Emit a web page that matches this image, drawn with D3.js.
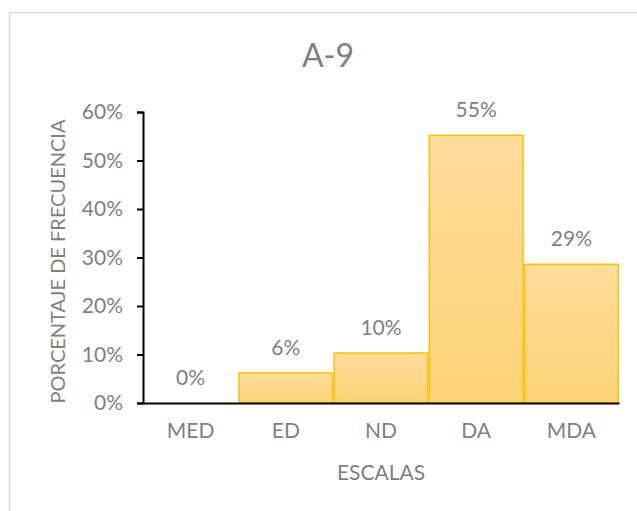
<!DOCTYPE html>
<html>
<head>
<meta charset="utf-8">
<script src="https://cdn.jsdelivr.net/npm/d3@7"></script>
<style>
  html, body { margin: 0; padding: 0; background: #fff; }
  svg { display: block; }
  text { font-family: Lato, "Open Sans", sans-serif; fill: #7f7f7f; }
</style>
</head>
<body>
<svg id="chart" width="637" height="511"></svg>
<script>
// Response scale categories and share of answers
const categories = ["MED", "ED", "ND", "DA", "MDA"];
const percentages = [0, 0.062, 0.103, 0.552, 0.286];
const yTicks = [0, 0.1, 0.2, 0.3, 0.4, 0.5, 0.6];
const chartTitle = "A-9";
const xTitle = "ESCALAS";
const yTitle = "PORCENTAJE DE FRECUENCIA";

const svg = d3.select("#chart");
const W = 637, H = 511;
const m = { left: 143, right: 18, top: 112, bottom: 108 };

// Chart frame (open to the right and bottom)
svg.append("rect")
  .attr("x", 9.5).attr("y", 12.5)
  .attr("width", 700).attr("height", 600)
  .attr("fill", "none")
  .attr("stroke", "#d9d9d9").attr("stroke-width", 1.5);

const x = d3.scaleBand().domain(categories)
  .range([m.left, W - m.right]).paddingInner(0).paddingOuter(0);
const y = d3.scaleLinear().domain([0, 0.6]).range([H - m.bottom, m.top]);

// Bar fill gradient
const defs = svg.append("defs");
const grad = defs.append("linearGradient")
  .attr("id", "barFill").attr("x1", 0).attr("y1", 0).attr("x2", 0).attr("y2", 1);
grad.append("stop").attr("offset", "0%").attr("stop-color", "#fedc9b");
grad.append("stop").attr("offset", "100%").attr("stop-color", "#fed377");

// Bars
svg.append("g").selectAll("rect")
  .data(categories.map((c, i) => ({ c, v: percentages[i] })).filter(d => d.v > 0))
  .join("rect")
  .attr("x", d => x(d.c) + 0.75)
  .attr("y", d => y(d.v))
  .attr("width", x.bandwidth() - 1.5)
  .attr("height", d => y(0) - y(d.v))
  .attr("fill", "url(#barFill)")
  .attr("stroke", "#ffc000")
  .attr("stroke-width", 1.5);

// Data labels
svg.append("g").selectAll("text")
  .data(categories.map((c, i) => ({ c, v: percentages[i] })))
  .join("text")
  .attr("x", d => x(d.c) + x.bandwidth() / 2)
  .attr("y", d => y(d.v) - 18)
  .attr("text-anchor", "middle")
  .style("font-size", "21px")
  .text(d => d3.format(".0%")(d.v));

// Y axis
const yAxis = svg.append("g")
  .attr("transform", `translate(${m.left},0)`)
  .call(d3.axisLeft(y).tickValues(yTicks).tickFormat(d3.format(".0%"))
    .tickSize(6).tickPadding(14));
yAxis.select(".domain").attr("stroke", "#000").attr("stroke-width", 2);
yAxis.selectAll(".tick line").attr("stroke", "#000").attr("stroke-width", 2);
yAxis.selectAll(".tick text")
  .style("font-size", "21px").style("font-family", "Lato, sans-serif")
  .attr("fill", "#7f7f7f");

// X axis
const xAxis = svg.append("g")
  .attr("transform", `translate(0,${y(0)})`)
  .call(d3.axisBottom(x).tickSize(0).tickPadding(20));
xAxis.select(".domain").attr("stroke", "#000").attr("stroke-width", 2);
xAxis.selectAll(".tick text")
  .style("font-size", "21px").style("font-family", "Lato, sans-serif")
  .attr("fill", "#7f7f7f");

// Titles
svg.append("text")
  .attr("x", (m.left + W - m.right) / 2 - 53).attr("y", 67)
  .attr("text-anchor", "middle")
  .style("font-size", "32px")
  .text(chartTitle);

svg.append("text")
  .attr("x", (m.left + W - m.right) / 2).attr("y", 480)
  .attr("text-anchor", "middle")
  .style("font-size", "21px")
  .text(xTitle);

svg.append("text")
  .attr("transform", `translate(65,${(y(0) + y(0.6)) / 2 + 4}) rotate(-90)`)
  .attr("text-anchor", "middle")
  .style("font-size", "20px")
  .text(yTitle);
</script>
</body>
</html>
